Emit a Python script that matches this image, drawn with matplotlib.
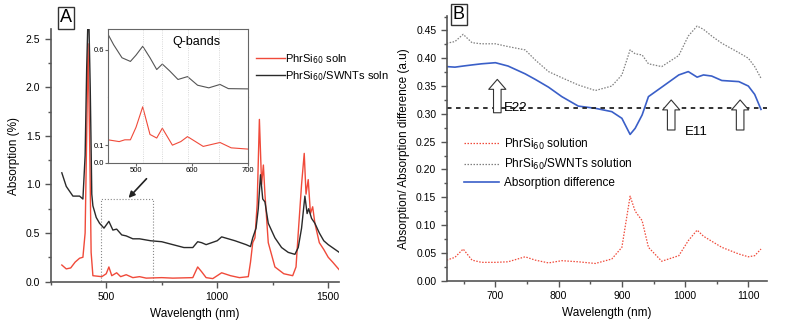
import numpy as np
import matplotlib.pyplot as plt
from matplotlib.ticker import MultipleLocator

# ---- panel A data (wavelength nm, absorption) ----
a_wl_red = [300, 320, 340, 360, 380, 395, 405, 412, 418, 425, 432, 440, 480, 500, 512,
            525, 547, 565, 590, 620, 650, 680, 750, 800, 890, 912, 930, 950, 980, 1020,
            1060, 1100, 1140, 1150, 1160, 1170, 1180, 1190, 1200, 1208, 1215, 1230, 1260,
            1300, 1340, 1355, 1365, 1380, 1392, 1400, 1410, 1420, 1430, 1440, 1460, 1480,
            1500, 1520, 1550]
a_red = [0.17, 0.13, 0.14, 0.20, 0.24, 0.25, 0.50, 1.50, 2.45, 1.50, 0.30, 0.06, 0.05, 0.08, 0.15,
         0.06, 0.09, 0.05, 0.07, 0.04, 0.05, 0.035, 0.04, 0.035, 0.04, 0.15, 0.10, 0.04, 0.03, 0.09,
         0.06, 0.04, 0.05, 0.20, 0.40, 0.45, 0.80, 1.67, 1.00, 1.20, 0.90, 0.40, 0.15,
         0.08, 0.06, 0.15, 0.50, 1.00, 1.32, 0.90, 1.05, 0.70, 0.77, 0.60, 0.40, 0.33,
         0.25, 0.20, 0.12]

a_wl_blk = [300, 320, 350, 380, 395, 405, 412, 420, 428, 435, 440, 455, 470, 490, 512, 530,
            547, 570, 590, 620, 650, 700, 750, 800, 850, 890, 912, 930, 950, 1000, 1020,
            1080, 1130, 1150, 1160, 1175, 1185, 1195, 1205, 1215, 1230, 1260, 1290, 1320,
            1350, 1365, 1380, 1395, 1405, 1412, 1425, 1440, 1460, 1480, 1500, 1550]
a_blk = [1.12, 0.98, 0.88, 0.88, 0.85, 1.30, 2.20, 2.90, 2.00, 0.90, 0.78, 0.66, 0.60, 0.55, 0.62, 0.53,
         0.54, 0.48, 0.47, 0.44, 0.44, 0.42, 0.41, 0.38, 0.35, 0.35, 0.41, 0.40, 0.38, 0.42, 0.46,
         0.42, 0.38, 0.36, 0.45, 0.55, 0.75, 1.10, 0.85, 0.82, 0.60, 0.45, 0.35, 0.30,
         0.28, 0.35, 0.55, 0.88, 0.70, 0.75, 0.65, 0.60, 0.50, 0.42, 0.38, 0.30]

# ---- inset (Q-bands) ----
q_wl_blk = [450, 460, 475, 490, 500, 512, 525, 537, 547, 560, 575, 592, 610, 630, 650, 665, 700]
q_blk = [0.66, 0.62, 0.57, 0.556, 0.58, 0.614, 0.57, 0.525, 0.546, 0.52, 0.487, 0.498, 0.465,
         0.455, 0.468, 0.452, 0.451]
q_wl_red = [450, 470, 480, 490, 500, 512, 525, 537, 547, 565, 580, 592, 620, 650, 670, 700]
q_red = [0.13, 0.12, 0.13, 0.13, 0.20, 0.315, 0.16, 0.14, 0.195, 0.10, 0.12, 0.148, 0.093,
         0.115, 0.085, 0.078]

# ---- panel B data ----
b_wl = [623, 636, 649, 663, 678, 700, 720, 747, 763, 784, 805, 831, 858, 884, 900, 913,
        921, 932, 942, 963, 990, 1005, 1019, 1029, 1042, 1058, 1085, 1100, 1110, 1120]
b_diff = [0.385, 0.384, 0.386, 0.388, 0.390, 0.392, 0.386, 0.372, 0.362, 0.348, 0.331, 0.314,
          0.310, 0.304, 0.292, 0.263, 0.274, 0.298, 0.331, 0.348, 0.370, 0.376, 0.366, 0.370,
          0.368, 0.360, 0.358, 0.350, 0.335, 0.308]
b_swnt = [0.427, 0.430, 0.443, 0.428, 0.426, 0.426, 0.421, 0.415, 0.397, 0.376, 0.365, 0.352,
          0.342, 0.350, 0.370, 0.415, 0.408, 0.406, 0.390, 0.385, 0.405, 0.440, 0.458, 0.452,
          0.440, 0.427, 0.410, 0.400, 0.385, 0.364]
b_phr = [0.037, 0.042, 0.057, 0.037, 0.033, 0.033, 0.034, 0.043, 0.037, 0.032, 0.036, 0.034,
         0.031, 0.039, 0.060, 0.152, 0.125, 0.108, 0.060, 0.035, 0.045, 0.072, 0.091, 0.080,
         0.071, 0.060, 0.048, 0.043, 0.045, 0.057]

RED = '#f04a3a'
BLK = '#2a2a2a'
BLUE = '#3a5fc8'
GRAY = '#808080'

plt.rcParams['font.family'] = 'Liberation Sans'
plt.rcParams['font.size'] = 7.5

fig = plt.figure(figsize=(7.95, 3.25), dpi=100)


def style(ax):
    for s in ['top', 'right']:
        ax.spines[s].set_visible(False)
    for s in ['left', 'bottom']:
        ax.spines[s].set_color('#555555')
        ax.spines[s].set_linewidth(1.2)
    ax.tick_params(which='both', direction='out', color='#555555', labelsize=7.5)
    ax.tick_params(which='major', length=4, width=1)
    ax.tick_params(which='minor', length=2.5, width=1)


# ---------------- panel A ----------------
axA = fig.add_axes([0.0638, 0.1323, 0.363, 0.778])
axA.plot(a_wl_red, a_red, color=RED, lw=1.0, label='PhrSi$_{60}$ soln')
axA.plot(a_wl_blk, a_blk, color=BLK, lw=1.0, label='PhrSi$_{60}$/SWNTs soln')
axA.set_xlim(250, 1550)
axA.set_ylim(-0.005, 2.6)
axA.xaxis.set_major_locator(MultipleLocator(500))
axA.xaxis.set_minor_locator(MultipleLocator(250))
axA.yaxis.set_major_locator(MultipleLocator(0.5))
axA.yaxis.set_minor_locator(MultipleLocator(0.25))
axA.set_xlabel('Wavelength (nm)', fontsize=8.5)
axA.set_ylabel('Absorption (%)', fontsize=8.5)
style(axA)
axA.add_patch(plt.Rectangle((475, 0), 237, 0.85, fill=False, ls=':', lw=0.8, ec='#888888'))
axA.annotate('', xy=(592, 0.84), xytext=(690, 1.08),
             arrowprops=dict(arrowstyle='-|>', color='#222222', lw=1.2, mutation_scale=9))
axA.legend(loc='upper left', bbox_to_anchor=(0.31, 0.87), bbox_transform=fig.transFigure,
           frameon=False, fontsize=8, handlelength=2.6, handletextpad=0, labelspacing=0.3)
fig.text(0.083, 0.945, 'A', fontsize=13, ha='center', va='center',
         bbox=dict(boxstyle='square,pad=0.12', fc='white', ec='#333333', lw=1))

# inset with broken y axis
ins_left, ins_w = 108 / 795, 140 / 795
up = fig.add_axes([ins_left, 1 - 97 / 325, ins_w, 68 / 325])
lo = fig.add_axes([ins_left, 1 - 163 / 325, ins_w, 66 / 325])
up.plot(q_wl_blk, q_blk, color='#555555', lw=0.8)
lo.plot(q_wl_red, q_red, color=RED, lw=0.8)
for ax in (up, lo):
    ax.set_xlim(450, 700)
    for s in ax.spines.values():
        s.set_color('#666666')
        s.set_linewidth(0.8)
    ax.tick_params(which='both', direction='out', labelsize=5.5, length=2, color='#666666', pad=1)
    for xv in [512, 547, 592, 648]:
        ax.axvline(xv, color='#cccccc', lw=0.6, ls=':')
up.set_ylim(0.42, 0.68)
up.set_yticks([0.6])
up.set_xticks([])
up.spines['bottom'].set_visible(False)
lo.set_ylim(0, 0.37)
lo.set_yticks([0.0, 0.1])
lo.set_xticks([500, 600, 700])
lo.spines['top'].set_visible(False)
up.text(0.63, 0.76, 'Q-bands', transform=up.transAxes, fontsize=9, ha='center')

# ---------------- panel B ----------------
axB = fig.add_axes([0.5619, 0.1363, 0.4025, 0.8145])
axB.plot(b_wl, b_phr, color=RED, lw=0.9, ls=(0, (1.2, 1.2)), label='PhrSi$_{60}$ solution')
axB.plot(b_wl, b_swnt, color=GRAY, lw=0.9, ls=(0, (1.2, 1.2)), label='PhrSi$_{60}$/SWNTs solution')
axB.plot(b_wl, b_diff, color=BLUE, lw=1.2, label='Absorption difference')
axB.axhline(0.31, color='#222222', lw=1.3, ls=(0, (2.5, 2.5)))
axB.set_xlim(623, 1129)
axB.set_ylim(0, 0.476)
axB.xaxis.set_major_locator(MultipleLocator(100))
axB.xaxis.set_minor_locator(MultipleLocator(50))
axB.yaxis.set_major_locator(MultipleLocator(0.05))
axB.yaxis.set_minor_locator(MultipleLocator(0.025))
axB.yaxis.set_major_formatter(plt.FormatStrFormatter('%.2f'))
axB.set_xlabel('Wavelength (nm)', fontsize=8.5)
axB.set_ylabel('Absorption/ Absorption difference (a.u)', fontsize=8.5)
style(axB)
axB.legend(loc='upper left', bbox_to_anchor=(0.02, 0.585), frameon=False, fontsize=8.5,
           handlelength=3.0, handletextpad=0.4, labelspacing=0.45)

for xa, y0, y1 in [(703, 0.302, 0.362), (978, 0.271, 0.325), (1087, 0.271, 0.325)]:
    axB.annotate('', xy=(xa, y1), xytext=(xa, y0),
                 arrowprops=dict(arrowstyle='simple,head_width=0.95,head_length=0.55,tail_width=0.42',
                                 fc='white', ec='#333333', lw=0.8, mutation_scale=13,
                                 shrinkA=0, shrinkB=0))
axB.text(713, 0.31, 'E22', fontsize=9.5, va='center')
axB.text(1000, 0.267, 'E11', fontsize=9.5, va='center')
fig.text(0.577, 0.955, 'B', fontsize=13, ha='center', va='center',
         bbox=dict(boxstyle='square,pad=0.12', fc='white', ec='#333333', lw=1))

fig.savefig('out.png', dpi=100)
